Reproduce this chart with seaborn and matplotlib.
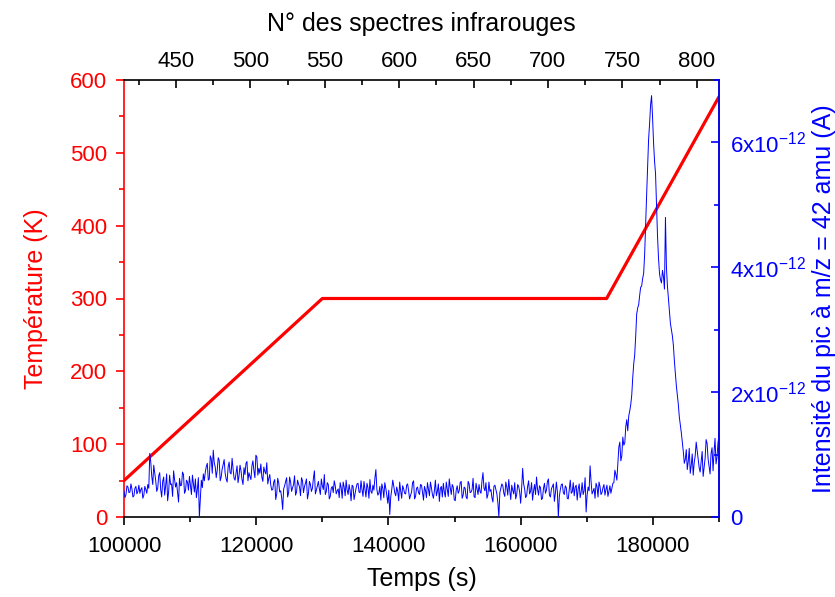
import numpy as np
import pandas as pd
import matplotlib
matplotlib.use("Agg")
import matplotlib.pyplot as plt
import seaborn as sns
from matplotlib.ticker import MultipleLocator, FixedLocator, FuncFormatter

# temperature programme (K)
temp_time = [100000, 130000, 173000, 190000]
temp_k = [50, 300, 300, 577]

# m/z = 42 signal in units of 1e-13 A
# readings every 300 s starting at 100000 s
ms_start = 100000
ms_step = 300
ms_early = [4.2, 3.6, 4.8, 4.0, 4.5, 3.4, 4.9, 4.1, 3.8, 4.7, 3.5, 4.4, 5.2,
            10.2, 6.5, 8.3,
            5.8, 4.6, 7.1, 3.2, 6.4, 5.0, 2.6, 6.7, 5.3, 7.4, 4.8, 3.9, 6.2,
            5.1, 6.8, 4.2, 5.6, 6.5, 3.6, 5.4, 6.1, 4.5, 0.0, 5.9, 6.9]
ms_bump = [7.2, 8.6, 6.1, 9.3, 10.7, 8.0, 7.5, 9.1, 6.4, 8.4, 7.0, 5.6, 8.8,
           6.9, 7.7, 5.9, 8.2, 6.6, 7.4, 5.2, 6.8, 8.9, 7.1, 6.0, 9.0, 6.3,
           9.6, 7.8, 8.5, 5.7, 7.3, 8.7, 6.2]
ms_after_bump = [5.1, 4.4, 6.0, 3.7, 5.5, 4.2, 1.2, 5.0, 6.3, 3.9, 5.6, 4.7,
                 6.6, 4.0, 5.3, 3.4, 5.8, 4.9, 6.1, 3.8, 5.2, 4.6, 7.4, 4.3,
                 5.7, 3.6, 5.0]
ms_plateau = [6.8, 4.1, 5.2, 3.3, 4.9, 5.8, 3.7, 4.5, 5.5, 3.0,
              4.8, 5.9, 3.6, 4.2, 5.1, 2.8, 4.6, 5.4, 3.9, 4.4,
              5.7, 3.2, 4.7, 6.0, 3.8, 4.3, 7.6, 3.5, 4.9, 5.3,
              3.1, 4.6, 2.2, 0.4, 4.4, 5.0, 3.4, 4.1, 5.6, 3.0,
              4.5, 3.7, 5.3, 2.9, 4.0, 5.8, 3.3, 4.8, 3.6, 5.1,
              2.7, 4.3, 5.5, 3.4, 4.7, 3.0, 5.9, 4.1, 2.5, 4.9,
              5.4, 3.2, 4.4, 6.1, 3.6, 4.8, 2.6, 5.0, 4.2, 5.7,
              3.5, 4.6, 2.9, 5.3, 4.0, 6.2, 3.1, 4.5, 5.2, 3.8,
              7.1, 4.2, 3.0, 5.6, 4.4, 2.4, 5.1, 3.7, 0.0, 4.6,
              5.0, 3.3, 4.8, 6.0, 2.8, 4.3, 5.5, 3.6, 4.9, 2.2,
              7.8, 4.5, 3.4, 5.8, 4.1, 2.7, 5.2, 6.4, 3.5, 4.7,
              3.0, 5.4, 4.3, 6.1, 3.2, 4.9, 2.5, 5.6, 0.0, 4.4,
              5.3, 3.6, 4.7, 2.9, 5.9, 4.0, 3.4, 5.1, 4.5, 3.1,
              5.5, 4.2, 0.8, 4.8, 8.2, 3.7, 4.6, 5.4, 3.2, 4.9,
              3.9, 5.2, 4.4, 3.3, 5.0, 4.6]
ms_desorption = [5.5, 6.8, 8.5, 12.0, 9.8, 11.5, 14.5, 13.8, 17.0, 19.5,
                 24.5, 29.0, 33.5, 35.5, 37.0, 39.0, 47.0, 56.0, 63.0, 67.5,
                 60.0, 55.0, 45.0, 39.0, 37.5, 38.5, 48.0, 37.0, 33.0, 30.0,
                 27.5, 23.0, 19.5, 16.0, 13.5, 10.5]
ms_tail = [9.2, 7.6, 11.0, 8.3, 6.7, 9.8, 10.6, 7.9, 8.8, 6.5, 9.4, 11.8,
           8.1, 10.2, 7.4, 12.6, 9.6, 13.2]

# in-between readings (150 s after each of the above)
ms_half = [3.1, 5.0, 3.9, 5.3, 3.2, 4.6, 3.7, 5.1, 4.4, 3.0, 4.9, 3.8, 4.6,
           8.8, 5.2, 7.0,
           4.1, 6.6, 4.4, 5.7, 3.5, 6.9, 4.0, 5.2, 3.3, 6.0, 5.5, 2.4, 5.0,
           7.2, 3.8, 5.9, 4.3, 5.1, 6.7, 4.0, 3.1, 6.3, 2.9, 4.7, 5.8,
           8.1, 5.9, 9.8, 7.0, 8.7, 6.3, 9.5, 5.8, 7.7, 9.2, 6.1, 8.0, 7.1,
           9.4, 6.2, 7.0, 5.5, 8.3, 6.0, 7.9, 8.6, 5.8, 6.5, 8.2, 7.4, 9.9,
           6.7, 7.0, 6.4, 8.0, 6.9, 5.3, 6.8,
           4.3, 5.6, 2.8, 6.2, 4.0, 3.1, 4.5, 5.7, 3.2, 6.4, 4.1, 5.2, 3.5,
           5.9, 4.8, 6.3, 3.9, 5.4, 2.9, 5.7, 4.1, 6.2, 3.7, 5.0, 4.5, 6.1, 4.4,
           3.6, 5.5, 2.9, 4.6, 3.9, 5.0, 4.2, 3.1, 4.7, 5.6,
           3.4, 4.3, 5.2, 2.6, 4.9, 3.7, 5.3, 4.0, 5.8, 3.3,
           4.5, 5.4, 3.0, 4.1, 5.1, 6.2, 4.4, 3.8, 2.7, 4.6,
           5.5, 3.5, 4.3, 3.2, 5.9, 3.9, 4.8, 2.6, 4.2, 5.0,
           3.8, 5.1, 4.2, 3.5, 5.5, 2.9, 4.6, 3.9, 5.2, 4.0,
           4.9, 3.1, 4.4, 5.6, 3.6, 4.2, 3.4, 5.3, 4.6, 3.2,
           4.0, 5.6, 3.3, 4.7, 5.2, 2.8, 4.3, 3.8, 5.5, 3.0,
           4.8, 3.2, 5.7, 3.9, 4.4, 3.3, 5.4, 3.6, 4.1, 5.8,
           4.6, 5.5, 3.6, 4.1, 3.1, 4.9, 4.4, 2.3, 3.9, 5.3,
           3.8, 5.6, 3.5, 4.2, 5.1, 3.7, 2.9, 5.2, 4.0, 4.7,
           5.3, 3.1, 4.9, 3.7, 5.5, 4.2, 3.6, 4.5, 5.0, 2.8,
           4.6, 3.8, 5.7, 3.5, 4.5, 5.3, 3.8, 4.1, 3.3, 5.2,
           3.9, 5.0, 3.0, 4.4, 3.8, 5.5, 4.8, 2.7, 5.3, 4.0,
           3.6, 6.3, 3.5, 4.2, 5.7, 4.1, 3.0, 4.9, 5.6, 3.6,
           4.7, 3.5, 5.1, 4.1, 3.8, 5.4,
           7.5, 5.9, 11.2, 9.0, 12.8, 11.9, 15.6, 16.2, 18.0, 22.3,
           26.0, 32.5, 34.0, 36.8, 38.2, 42.0, 51.5, 60.5, 66.0, 64.0,
           57.0, 50.0, 41.5, 38.0, 39.5, 36.5, 40.0, 35.0, 31.0, 29.0,
           25.0, 21.0, 18.0, 14.8, 12.0, 8.6,
           10.8, 8.9, 7.0, 10.1, 8.7, 12.0, 9.1, 7.2, 10.5, 8.0, 12.4, 9.3,
           6.9, 11.1, 10.4, 8.5, 11.9]

# top axis: infrared spectrum number vs time
spec_first = 415
spec_period = 225  # s per spectrum

ms_vals = ms_early + ms_bump + ms_after_bump + ms_plateau + ms_desorption + ms_tail
ms_df = pd.concat([
    pd.DataFrame({"t": ms_start + ms_step * np.arange(len(ms_vals)), "I": ms_vals}),
    pd.DataFrame({"t": ms_start + ms_step / 2 + ms_step * np.arange(len(ms_half)), "I": ms_half}),
]).sort_values("t")
ms_df["I"] = ms_df["I"] * 1e-13
temp_df = pd.DataFrame({"t": temp_time, "T": temp_k})

sns.set_style("ticks")
plt.rcParams["font.family"] = ["Liberation Sans", "DejaVu Sans"]
plt.rcParams["mathtext.default"] = "regular"
plt.rcParams["text.color"] = "black"
plt.rcParams["axes.labelcolor"] = "black"
plt.rcParams["xtick.color"] = "black"
plt.rcParams["ytick.color"] = "black"

RED = "#FF0000"
BLUE = "#0000FF"
TICK_FS = 16
LABEL_FS = 18

fig = plt.figure(figsize=(8.35, 5.97), dpi=100)
fig.set_facecolor("#FFFFFF")
ax = fig.add_axes([124 / 835, 1 - 517 / 597, (719 - 124) / 835, (517 - 80) / 597])
ax2 = ax.twinx()

sns.lineplot(data=temp_df, x="t", y="T", color=RED, linewidth=2.3, ax=ax)
sns.lineplot(data=ms_df, x="t", y="I", color=BLUE, linewidth=0.7, ax=ax2)

ax.set_xlim(100000, 190000)
ax.set_ylim(0, 600)
ax2.set_ylim(0, 7e-12)
ax2.set_xlabel("")
ax2.xaxis.set_visible(False)

ax.xaxis.set_major_locator(FixedLocator([100000, 120000, 140000, 160000, 180000]))
ax.xaxis.set_minor_locator(MultipleLocator(10000))
ax.yaxis.set_major_locator(MultipleLocator(100))
ax.yaxis.set_minor_locator(MultipleLocator(50))
ax2.yaxis.set_major_locator(MultipleLocator(2e-12))
ax2.yaxis.set_minor_locator(MultipleLocator(1e-12))


def sci_fmt(v, pos):
    if abs(v) < 1e-20:
        return "0"
    return f"{v * 1e12:.0f}x10$^{{-12}}$"


ax2.yaxis.set_major_formatter(FuncFormatter(sci_fmt))
ax.xaxis.set_major_formatter(FuncFormatter(lambda v, pos: f"{v:.0f}"))
for a in (ax, ax2):
    a.xaxis.get_offset_text().set_visible(False)
    a.yaxis.get_offset_text().set_visible(False)

ax.tick_params(axis="x", which="both", direction="out", colors="black", labelsize=TICK_FS, width=1.2, pad=8)
ax.tick_params(axis="x", which="major", length=6)
ax.tick_params(axis="x", which="minor", length=3.5)
ax.tick_params(axis="y", which="both", direction="out", colors=RED, labelsize=TICK_FS, width=1.2, pad=6)
ax.tick_params(axis="y", which="major", length=6)
ax.tick_params(axis="y", which="minor", length=3.5)
ax2.tick_params(axis="y", which="both", direction="in", colors=BLUE, labelsize=TICK_FS, width=1.2, pad=8)
ax2.tick_params(axis="y", which="major", length=6)
ax2.tick_params(axis="y", which="minor", length=3.5)

sec = ax.secondary_xaxis(
    "top",
    functions=(lambda t: spec_first + (t - 100000) / spec_period,
               lambda n: 100000 + (n - spec_first) * spec_period),
)
sec.xaxis.set_major_locator(MultipleLocator(50))
sec.xaxis.set_minor_locator(MultipleLocator(25))
sec.tick_params(axis="x", which="both", direction="in", colors="black", labelsize=TICK_FS, width=1.2, pad=6)
sec.tick_params(axis="x", which="major", length=6)
sec.tick_params(axis="x", which="minor", length=3.5)
sec.set_xlabel("N° des spectres infrarouges", fontsize=LABEL_FS, color="black", labelpad=14)

ax.set_xlabel("Temps (s)", fontsize=LABEL_FS, color="black", labelpad=7)
ax.set_ylabel("Température (K)", fontsize=LABEL_FS, color=RED, labelpad=16)
ax2.set_ylabel("Intensité du pic à m/z = 42 amu (A)", fontsize=LABEL_FS, color=BLUE, labelpad=4)

for s in ax.spines.values():
    s.set_linewidth(1.2)
for s in ax2.spines.values():
    s.set_linewidth(1.2)
ax.spines["left"].set_color(RED)
ax.spines["bottom"].set_color("black")
ax.spines["top"].set_color("black")
ax2.spines["right"].set_color(BLUE)
ax2.spines["left"].set_visible(False)
ax2.spines["top"].set_visible(False)
ax2.spines["bottom"].set_visible(False)
sec.spines["top"].set_visible(False)

fig.savefig("out.png", dpi=100)
plt.close(fig)
